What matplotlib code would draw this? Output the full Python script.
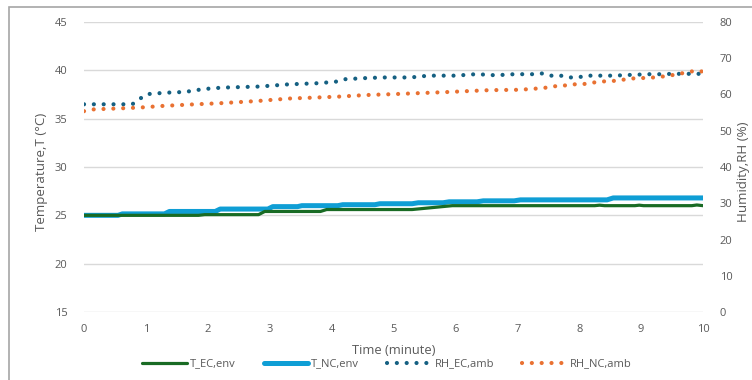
# Temperature and humidity over 10 minutes, EC vs NC
import matplotlib
matplotlib.use("Agg")
import matplotlib.pyplot as plt
from matplotlib.patches import Rectangle

plt.rcParams['font.family'] = ['Open Sans', 'DejaVu Sans']

# T_EC,env (left axis)
t_ec_time = [0, 1.85, 1.95, 2.82, 2.92, 3.82, 3.92, 5.3, 5.95, 8.25, 8.33, 8.41,
             8.9, 8.97, 9.04, 9.82, 9.9, 10]
t_ec = [25.0, 25.0, 25.07, 25.07, 25.4, 25.4, 25.6, 25.6, 26.0, 26.0, 26.05, 26.0,
        26.0, 26.05, 26.0, 26.0, 26.07, 26.0]

# T_NC,env (left axis)
t_nc_time = [0, 0.55, 0.62, 1.3, 1.38, 2.12, 2.2, 2.97, 3.05, 3.45, 3.52, 4.1, 4.18,
             4.7, 4.78, 5.3, 5.4, 5.8, 5.9, 6.35, 6.45, 6.95, 7.05, 8.45, 8.55, 10]
t_nc = [25.0, 25.0, 25.15, 25.15, 25.4, 25.4, 25.65, 25.65, 25.9, 25.9, 26.0, 26.0, 26.1,
        26.1, 26.2, 26.2, 26.3, 26.3, 26.4, 26.4, 26.5, 26.5, 26.6, 26.6, 26.8, 26.8]

# RH_EC,amb (right axis)
rh_ec_time = [0, 0.78, 0.9, 1.02, 1.17, 1.32, 1.63, 1.78, 1.93, 2.23, 2.84, 3.15, 3.3,
              3.76, 4.06, 4.2, 4.51, 4.82, 5.28, 5.44, 5.58, 6.05, 6.2, 6.36, 6.65, 6.95,
              7.25, 7.4, 7.55, 7.7, 7.85, 8.0, 8.14, 8.6, 8.75, 8.9, 9.05, 9.35, 9.5,
              9.8, 10]
rh_ec = [57.3, 57.3, 58.8, 60.1, 60.3, 60.5, 60.7, 61.1, 61.5, 61.9, 62.2, 62.6, 62.8,
         63.1, 63.5, 64.2, 64.5, 64.7, 64.7, 65.0, 65.2, 65.2, 65.5, 65.6, 65.3, 65.6,
         65.6, 65.8, 65.2, 65.2, 64.7, 64.8, 65.2, 65.2, 65.4, 65.4, 65.6, 65.6, 65.7,
         65.7, 65.7]

# RH_NC,amb (right axis)
rh_nc_time = [0, 0.16, 0.62, 0.9, 1.07, 1.22, 1.45, 1.8, 2.2, 2.5, 2.8, 3.02, 3.33,
              3.65, 4.1, 4.4, 4.63, 5.0, 5.45, 5.9, 6.28, 6.55, 7.0, 7.22, 7.47, 7.62,
              7.77, 7.92, 8.08, 8.23, 8.38, 8.53, 8.68, 8.83, 8.98, 9.2, 9.43, 9.58,
              9.74, 9.89, 10]
rh_nc = [55.4, 55.9, 56.2, 56.4, 56.6, 56.8, 57.0, 57.3, 57.6, 57.9, 58.2, 58.5, 58.9,
         59.1, 59.4, 59.7, 59.9, 60.1, 60.4, 60.7, 61.0, 61.2, 61.3, 61.5, 61.9, 62.3,
         62.5, 62.8, 62.9, 63.3, 63.6, 63.7, 64.0, 64.4, 64.5, 64.7, 65.1, 65.6,
         66.1, 66.6, 66.3]

x_ticks = list(range(0, 11))
left_ticks = [15, 20, 25, 30, 35, 40, 45]
right_ticks = [0, 10, 20, 30, 40, 50, 60, 70, 80]

text_color = "#595959"
grid_color = "#d9d9d9"

fig = plt.figure(figsize=(7.52, 3.8), dpi=100)
# outer chart frame (cropped at right and bottom)
fig.patches.append(Rectangle((9 / 752, -0.1), 1.2, 1 - 7 / 380 + 0.1,
                             transform=fig.transFigure, fill=False,
                             edgecolor="#a6a6a6", linewidth=1.2))

ax = fig.add_axes([84 / 752, 1 - 312 / 380, (703 - 84) / 752, (312 - 22) / 380])
ax2 = ax.twinx()

l1, = ax.plot(t_ec_time, t_ec, color="#196B24", linewidth=2.3, label="T_EC,env",
              solid_capstyle="round", zorder=3)
l2, = ax.plot(t_nc_time, t_nc, color="#0F9ED5", linewidth=3.6, label="T_NC,env",
              solid_capstyle="round", zorder=2)
l3, = ax2.plot(rh_ec_time, rh_ec, color="#156082", linewidth=3.0,
               linestyle=(0, (0.01, 2.35)), dash_capstyle="round", label="RH_EC,amb")
l4, = ax2.plot(rh_nc_time, rh_nc, color="#E97132", linewidth=3.0,
               linestyle=(0, (0.01, 2.35)), dash_capstyle="round", label="RH_NC,amb")

ax.set_xlim(0, 10)
ax.set_ylim(15, 45)
ax2.set_ylim(0, 80)
ax.set_xticks(x_ticks)
ax.set_yticks(left_ticks)
ax2.set_yticks(right_ticks)

for a in (ax, ax2):
    for s in a.spines.values():
        s.set_visible(False)
    a.tick_params(length=0, labelsize=8, colors=text_color)
ax.tick_params(axis="y", pad=12)
ax2.tick_params(axis="y", pad=12)
ax.tick_params(axis="x", pad=9)

ax.yaxis.grid(True, color=grid_color, linewidth=1.0)
ax.set_axisbelow(True)

ax.set_xlabel("Time (minute)", fontsize=9.3, color=text_color, labelpad=6)
fig.text(41 / 752, 1 - 172 / 380, "Temperature,T (°C)", rotation=90, ha="center",
         va="center", fontsize=9.6, color=text_color)
fig.text(743 / 752, 1 - 172 / 380, "Humidity,RH (%)", rotation=90, ha="center",
         va="center", fontsize=9.6, color=text_color)

fig.legend(handles=[l1, l2, l3, l4], loc="center",
           bbox_to_anchor=(0.5 + 11 / 752, 1 - 364 / 380),
           ncol=4, frameon=False, fontsize=8, labelcolor=text_color,
           handlelength=4.0, columnspacing=2.5, handletextpad=0.3)

fig.savefig("out.png", dpi=100)
